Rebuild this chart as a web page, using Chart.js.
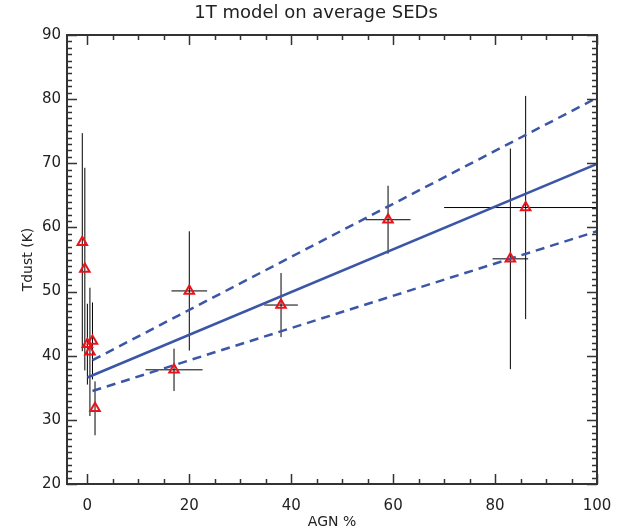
<!DOCTYPE html>
<html>
<head>
<meta charset="utf-8">
<script src="https://cdn.jsdelivr.net/npm/chart.js@4.4.1/dist/chart.umd.min.js"></script>
<style>
  body { margin: 0; background: #fff; }
  #wrap { width: 632px; height: 531px; }
</style>
</head>
<body>
<div id="wrap"><canvas id="grafico"></canvas></div>
<script>
// data
const agn   = [-1, -0.5, 0, 0.5, 1, 1.5, 17, 20, 38, 59, 83, 86];
const tdust = [57.7, 53.5, 41.8, 40.6, 42.3, 31.8, 37.8, 50.1, 47.9, 61.2, 55.1, 63.1];
const agnErr   = [0, 0, 0, 0, 0, 0, 5.6, 3.5, 3.3, 4.4, 3.5, 16];
const tdustErr = [17, 15.8, 6.3, 10, 6, 4.2, 3.3, 9.3, 5, 5.3, 17.2, 17.4];

// fitted line and its envelope (end points)
const fitX = [0, 100];
const fitY = [36.6, 69.9];
const bandX = [1, 100];
const upperY = [39.3, 80.2];
const lowerY = [34.5, 59.4];

const xTicks = [0, 20, 40, 60, 80, 100];
const yTicks = [20, 30, 40, 50, 60, 70, 80, 90];

const azul = '#3b56a6';
const texto = '#222';
const fuente = "'DejaVu Sans', sans-serif";

const pares = (xs, ys) => xs.map((x, i) => ({x: x, y: ys[i]}));

// error bars, inward ticks and the box
const extras = {
    id: 'extras',
    beforeDatasetsDraw(chart) {
        const ctx = chart.ctx;
        const a = chart.chartArea;
        const sx = chart.scales.x, sy = chart.scales.y;
        ctx.save();
        ctx.beginPath();
        ctx.rect(a.left, a.top, a.right - a.left, a.bottom - a.top);
        ctx.clip();
        ctx.strokeStyle = '#000';
        ctx.lineWidth = 1;
        agn.forEach((x, i) => {
            const px = sx.getPixelForValue(x);
            const py = sy.getPixelForValue(tdust[i]);
            ctx.beginPath();
            ctx.moveTo(px, sy.getPixelForValue(tdust[i] - tdustErr[i]));
            ctx.lineTo(px, sy.getPixelForValue(tdust[i] + tdustErr[i]));
            if (agnErr[i] > 0) {
                ctx.moveTo(sx.getPixelForValue(x - agnErr[i]), py);
                ctx.lineTo(sx.getPixelForValue(x + agnErr[i]), py);
            }
            ctx.stroke();
        });
        ctx.restore();
    },
    afterDraw(chart) {
        const ctx = chart.ctx;
        const a = chart.chartArea;
        const sx = chart.scales.x, sy = chart.scales.y;
        ctx.save();
        ctx.strokeStyle = '#333';
        ctx.lineWidth = 1.5;
        ctx.beginPath();
        for (let v = 0; v <= 100; v += 5) {
            const len = v % 20 === 0 ? 10 : 5;
            const px = Math.round(sx.getPixelForValue(v)) + 0.5;
            ctx.moveTo(px, a.bottom); ctx.lineTo(px, a.bottom - len);
            ctx.moveTo(px, a.top); ctx.lineTo(px, a.top + len);
        }
        for (let v = 20; v <= 90; v += 1) {
            const len = v % 10 === 0 ? 10 : 5;
            const py = Math.round(sy.getPixelForValue(v)) + 0.5;
            ctx.moveTo(a.left, py); ctx.lineTo(a.left + len, py);
            ctx.moveTo(a.right, py); ctx.lineTo(a.right - len, py);
        }
        ctx.stroke();
        ctx.lineWidth = 2;
        ctx.strokeRect(a.left, a.top, a.right - a.left, a.bottom - a.top);
        ctx.restore();
    }
};

new Chart(document.getElementById('grafico'), {
    type: 'scatter',
    data: {
        datasets: [
            {
                label: 'SEDs',
                data: pares(agn, tdust),
                pointStyle: 'triangle',
                pointRadius: 5.5,
                pointBorderWidth: 2,
                borderColor: '#e8141b',
                backgroundColor: 'rgba(0,0,0,0)'
            },
            {
                label: 'fit',
                data: pares(fitX, fitY),
                showLine: true,
                pointRadius: 0,
                borderColor: azul,
                borderWidth: 2.5
            },
            {
                label: 'upper',
                data: pares(bandX, upperY),
                showLine: true,
                pointRadius: 0,
                borderColor: azul,
                borderWidth: 2.5,
                borderDash: [9, 6]
            },
            {
                label: 'lower',
                data: pares(bandX, lowerY),
                showLine: true,
                pointRadius: 0,
                borderColor: azul,
                borderWidth: 2.5,
                borderDash: [9, 6]
            }
        ]
    },
    options: {
        responsive: true,
        maintainAspectRatio: false,
        animation: false,
        layout: { padding: 0 },
        plugins: {
            legend: { display: false },
            tooltip: { enabled: false },
            title: {
                display: true,
                text: '1T model on average SEDs',
                color: texto,
                font: { family: fuente, size: 18, weight: 'normal' },
                padding: { top: 3, bottom: 10.4 }
            }
        },
        scales: {
            x: {
                type: 'linear',
                min: -4,
                max: 100,
                afterBuildTicks: s => { s.ticks = xTicks.map(v => ({value: v})); },
                afterFit: s => { s.height = 47; },
                grid: { display: false, drawTicks: false },
                border: { display: false },
                ticks: { color: texto, font: { family: fuente, size: 15 }, padding: 13, maxRotation: 0 },
                title: {
                    display: true,
                    text: 'AGN %',
                    color: texto,
                    font: { family: fuente, size: 14 },
                    padding: { top: 0, bottom: 0 }
                }
            },
            y: {
                type: 'linear',
                min: 20,
                max: 90,
                afterBuildTicks: s => { s.ticks = yTicks.map(v => ({value: v})); },
                afterFit: s => { s.width = 67; },
                grid: { display: false, drawTicks: false },
                border: { display: false },
                ticks: { color: texto, font: { family: fuente, size: 15 }, padding: 6 },
                title: {
                    display: true,
                    text: 'Tdust (K)',
                    color: texto,
                    font: { family: fuente, size: 14 },
                    padding: { top: 20, bottom: 0 }
                }
            },
            // empty right-hand strip, keeps the plot box off the edge
            derecha: {
                type: 'linear',
                position: 'right',
                afterFit: s => { s.width = 35; },
                grid: { display: false, drawTicks: false },
                border: { display: false },
                ticks: { display: false }
            }
        }
    },
    plugins: [extras]
});
</script>
</body>
</html>
